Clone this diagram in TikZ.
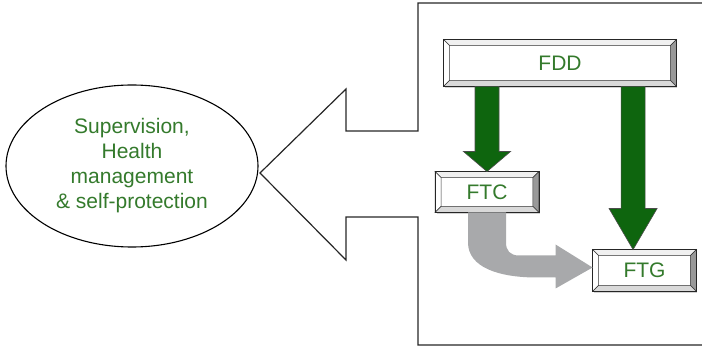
\documentclass[tikz,border=0pt]{standalone}
\usepackage{fontspec}
\setmainfont{Liberation Sans}
\usetikzlibrary{calc,shadows,shapes.geometric}
\definecolor{txtgreen}{HTML}{347A2C}
\definecolor{arrgreen}{HTML}{0E650E}
\definecolor{arrgray}{HTML}{A8A9AB}
\tikzset{
  bevbox/.style={draw=black!85, line width=0.9pt, fill=white, inner sep=0pt,
    text=txtgreen, font=\fontsize{21}{25}\selectfont,
    drop shadow={shadow xshift=1pt, shadow yshift=-2pt, opacity=0.35}},
  bevline/.style={draw=black!80, line width=0.5pt},
  garrowst/.style={fill=arrgreen, draw=black!70, line width=0.6pt},
  grayarrowst/.style={fill=arrgray, draw=none},
  framest/.style={draw=black!85, line width=1.2pt, line join=miter},
  ellst/.style={draw=black, line width=1.1pt, ellipse, text=txtgreen, align=center,
    font=\fontsize{21}{25}\selectfont, inner sep=0pt},
}
\newcommand\bevel[1]{%
  \filldraw[bevline, fill=black!6] (#1.north west) -- (#1.north east) -- ([shift={(-6,6)}]#1.north east) -- ([shift={(6,6)}]#1.north west) -- cycle;
  \filldraw[bevline, fill=white] (#1.north west) -- ([shift={(6,6)}]#1.north west) -- ([shift={(6,-6)}]#1.south west) -- (#1.south west) -- cycle;
  \filldraw[bevline, fill=black!40] (#1.north east) -- (#1.south east) -- ([shift={(-6,-6)}]#1.south east) -- ([shift={(-6,6)}]#1.north east) -- cycle;
  \filldraw[bevline, fill=black!15] (#1.south west) -- (#1.south east) -- ([shift={(-6,-6)}]#1.south east) -- ([shift={(6,-6)}]#1.south west) -- cycle;
  \draw[draw=black!85, line width=0.9pt] (#1.north west) rectangle (#1.south east);
}
\begin{document}
\begin{tikzpicture}[x=1pt,y=-1pt]
\useasboundingbox (0,0) rectangle (702,347);
% frame with big hollow arrow
\draw[framest] (702,3) -- (418,3) -- (418,131) -- (346,131) -- (346,89) -- (260,173)
  -- (346,260) -- (346,217) -- (418,217) -- (418,345) -- (702,345);
% ellipse
\node[ellst, minimum width=252, minimum height=162] (ell) at (132,166)
  {Supervision,\\Health\\management\\\& self-protection};
% boxes
\node[bevbox, minimum width=232, minimum height=46] (fdd) at (560,63) {FDD};
\bevel{fdd}
\node[bevbox, minimum width=103, minimum height=40] (ftc) at (487,192) {FTC};
\bevel{ftc}
\node[bevbox, minimum width=103, minimum height=41] (ftg) at (644.5,270.5) {FTG};
\bevel{ftg}
% green arrow FDD -> FTC
\coordinate (t1) at (ftc.north);
\coordinate (s1) at (fdd.south -| t1);
\draw[garrowst] let \p1=(s1), \p2=(t1) in
  (\x2-12pt,\y1) -- (\x2+12pt,\y1) -- (\x2+12pt,\y2+20pt) -- (\x2+23.5pt,\y2+20pt)
  -- (t1) -- (\x2-23.5pt,\y2+20pt) -- (\x2-12pt,\y2+20pt) -- cycle;
% green arrow FDD -> FTG
\coordinate (t2) at ($(ftg.north west)!0.39!(ftg.north east)$);
\coordinate (s2) at (fdd.south -| t2);
\draw[garrowst] let \p1=(s2), \p2=(t2) in
  (\x2-12pt,\y1) -- (\x2+12pt,\y1) -- (\x2+12pt,\y2+41pt) -- (\x2+24pt,\y2+41pt)
  -- (t2) -- (\x2-24pt,\y2+41pt) -- (\x2-12pt,\y2+41pt) -- cycle;
% gray curved arrow FTC -> FTG
\coordinate (gs) at (ftc.south);
\coordinate (gt) at ([yshift=3pt]ftg.west);
\fill[grayarrowst] let \p1=(gs), \p2=(gt) in
  (\x1-19pt,\y1) -- (\x1-19pt,\y1-30pt)
  .. controls (\x1-19pt,\y2) and (\x1+12pt,\y2-10pt) .. (\x1+50pt,\y2-10pt)
  -- (\x2-37pt,\y2-10pt) -- (\x2-37pt,\y2-21pt) -- (gt) -- (\x2-37pt,\y2+23pt)
  -- (\x2-37pt,\y2+12pt) -- (\x1+32pt,\y2+12pt)
  .. controls (\x1+23pt,\y2+12pt) and (\x1+19pt,\y2+17pt) .. (\x1+19pt,\y2+25pt)
  -- (\x1+19pt,\y1) -- cycle;
\end{tikzpicture}
\end{document}
